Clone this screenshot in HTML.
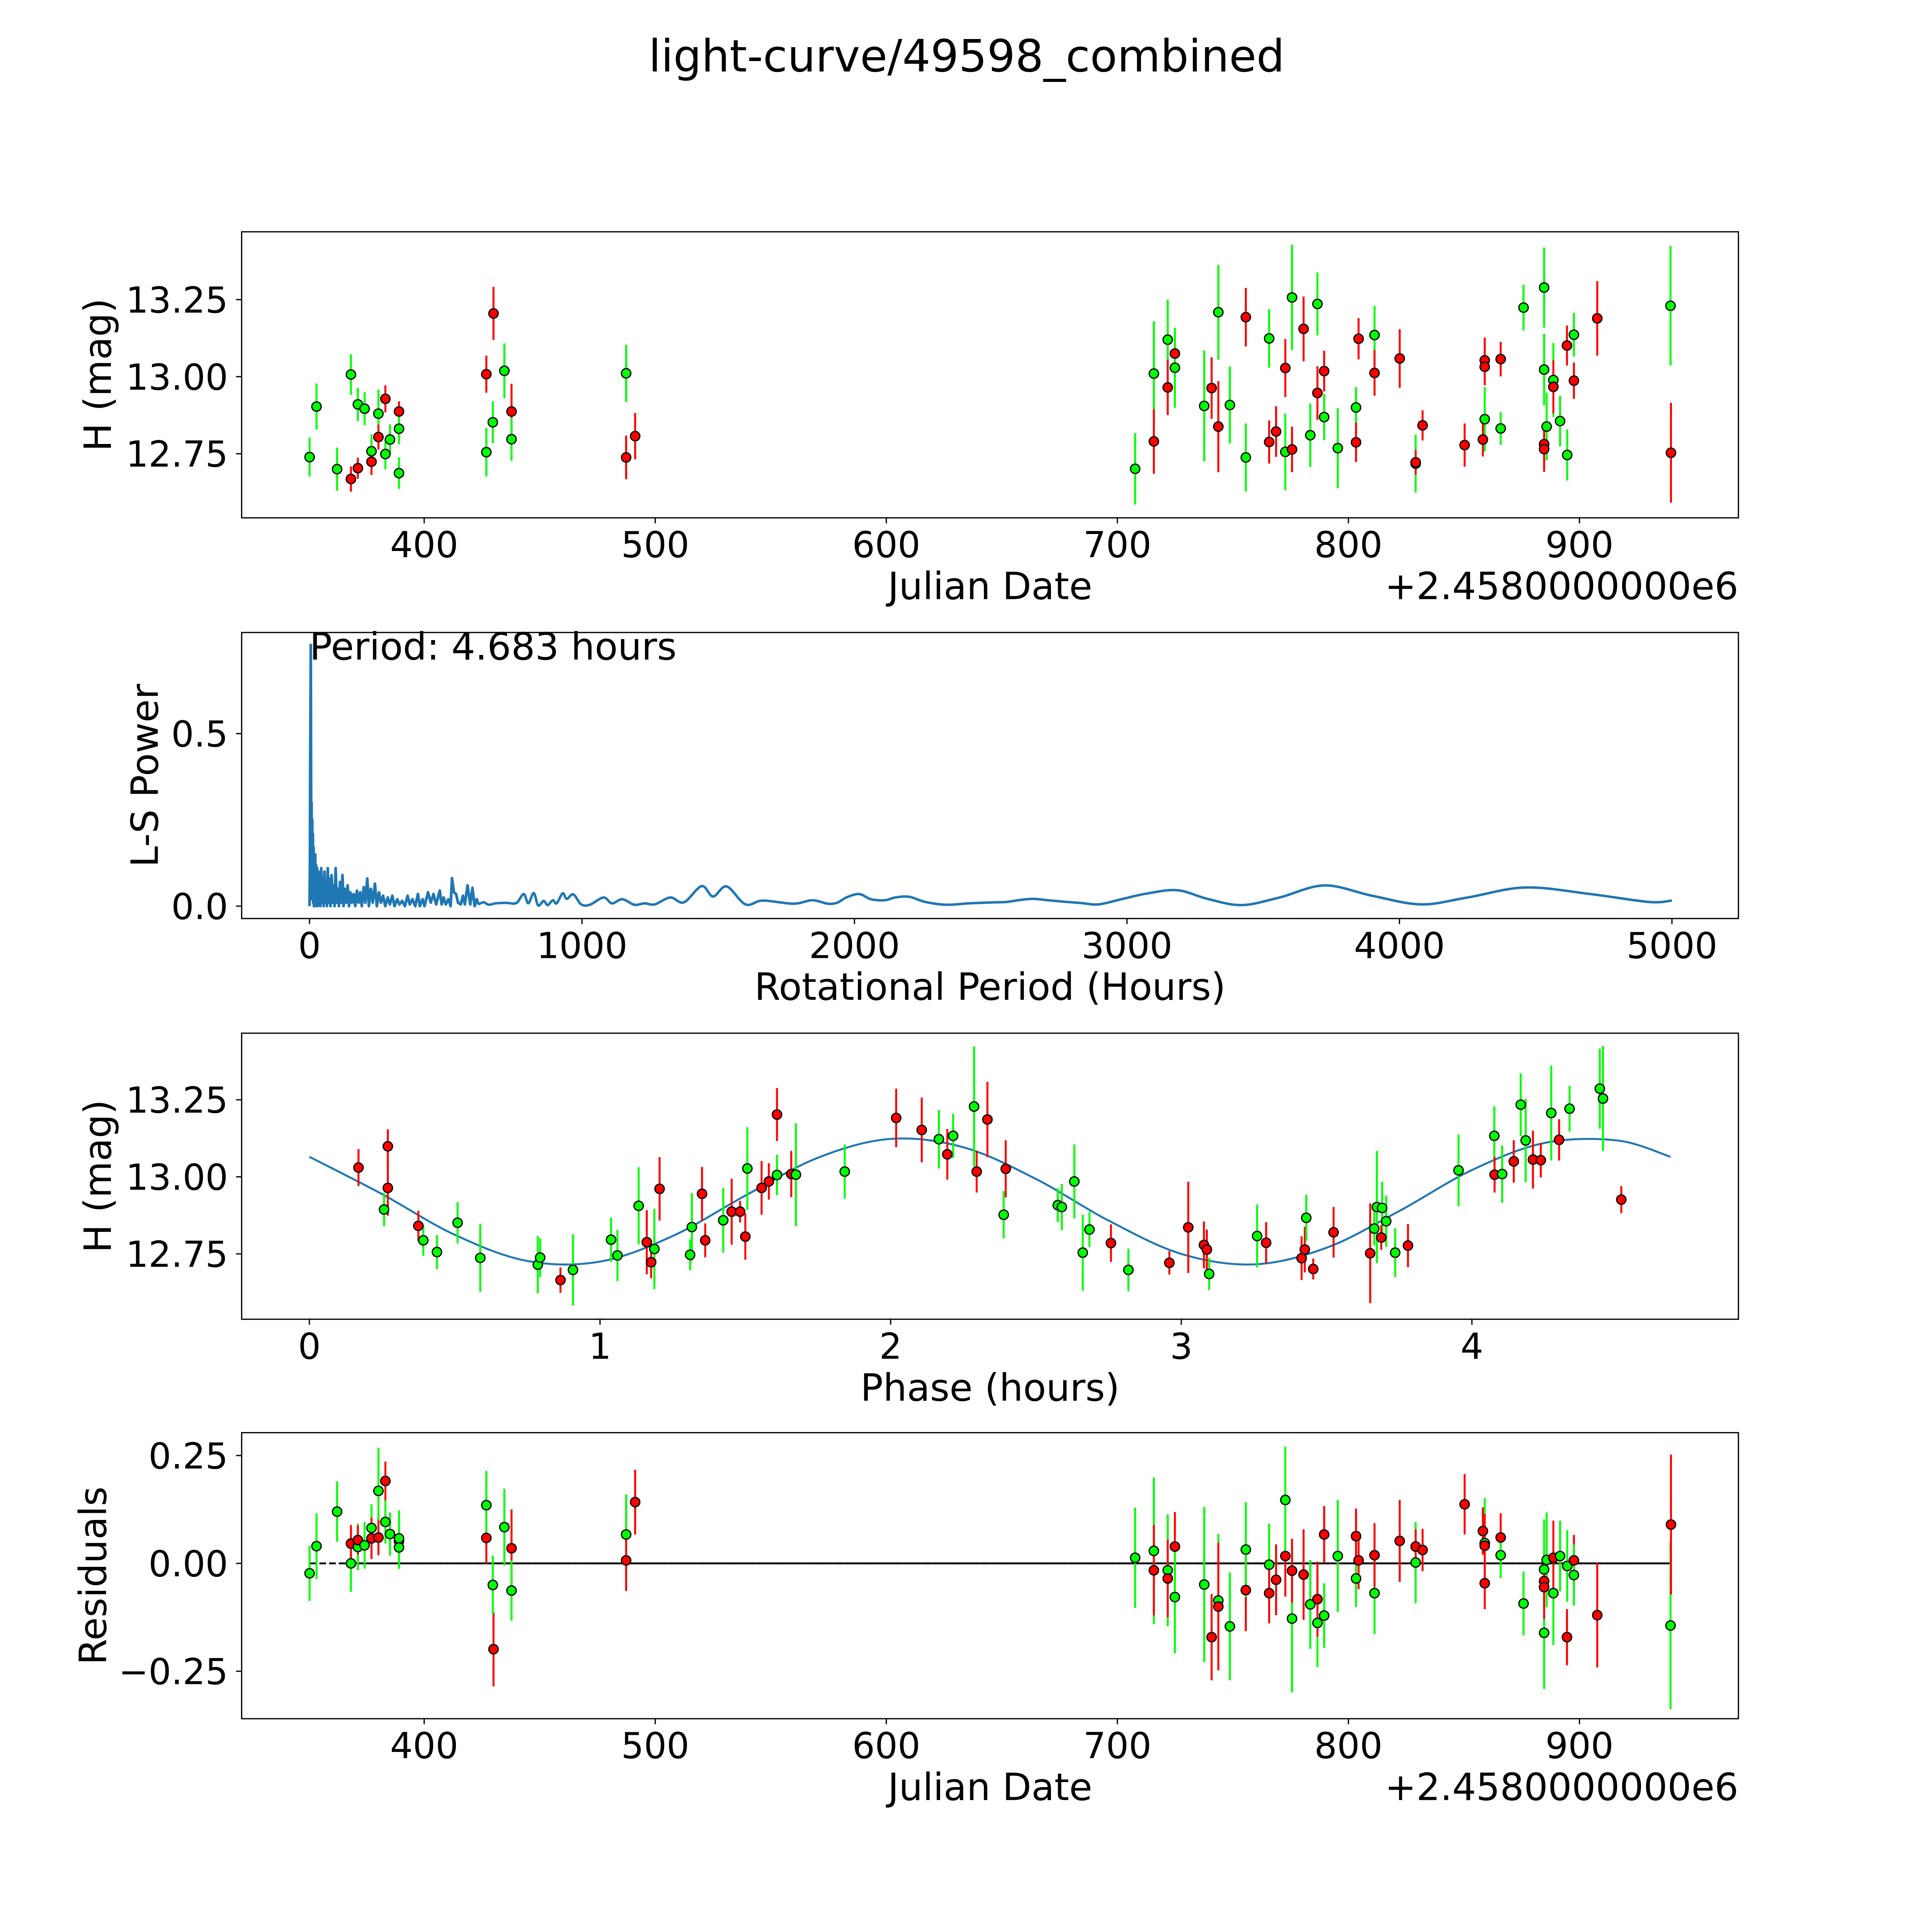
<!DOCTYPE html>
<html><head><meta charset="utf-8"><style>
html,body{margin:0;padding:0;background:#fff;width:100%;height:100%;overflow:hidden;}
svg{display:block;position:absolute;left:0;top:0;width:100vw;height:100vh;}
text{font-family:"DejaVu Sans","Liberation Sans",sans-serif;fill:#000;}
</style></head><body>
<svg id="fig" xmlns="http://www.w3.org/2000/svg" width="100%" height="100%" viewBox="0 0 1567 1567" preserveAspectRatio="none">
<rect x="0" y="0" width="1567" height="1567" fill="#fff"/>
<text x="784" y="58" font-size="36" text-anchor="middle">light-curve/49598_combined</text>
</svg>
<script>
// ---------- Panel 1: light curve ----------
const lcJD=[350.4,353.4,362.3,368.3,368.3,371.3,371.3,374.2,377.2,377.2,380.2,380.2,383.2,383.2,385.2,389.1,389.1,389.1,426.9,426.9,430.0,429.7,434.7,437.8,437.8,487.4,487.4,491.3,
707.7,715.8,715.8,721.8,721.8,724.9,724.9,737.6,740.8,743.7,743.7,748.7,755.6,755.6,765.7,765.7,768.7,772.7,772.7,775.6,775.6,780.6,783.5,786.6,786.6,789.5,789.5,795.4,803.3,803.3,804.4,811.3,811.3,822.2,829.1,829.1,832.1,850.3,858.2,859.0,859.0,859.0,865.9,865.9,875.8,884.7,884.7,884.7,884.7,885.8,888.7,888.7,891.6,894.6,894.7,897.6,897.6,907.7,939.4,939.6];
const lcMag=[12.739,12.903,12.700,13.007,12.668,12.910,12.703,12.896,12.758,12.724,12.880,12.804,12.928,12.749,12.796,12.887,12.831,12.687,13.008,12.755,13.205,12.852,13.019,12.887,12.797,13.011,12.738,12.807,
12.701,13.010,12.790,13.120,12.965,13.075,13.029,12.905,12.963,13.209,12.838,12.908,13.193,12.738,13.124,12.788,12.822,13.028,12.756,13.257,12.764,13.155,12.810,13.236,12.947,13.018,12.869,12.768,12.900,12.787,13.123,13.135,13.012,13.059,12.718,12.722,12.842,12.778,12.796,12.862,13.053,13.032,13.057,12.832,13.224,13.289,13.023,12.781,12.765,12.838,12.989,12.967,12.856,13.101,12.746,12.987,13.136,13.189,13.230,12.753];
const lcErr=[0.063,0.075,0.07,0.066,0.041,0.054,0.034,0.054,0.055,0.043,0.078,0.041,0.044,0.05,0.049,0.033,0.05,0.051,0.06,0.079,0.086,0.068,0.089,0.09,0.07,0.093,0.071,0.075,
0.116,0.17,0.105,0.13,0.09,0.08,0.13,0.18,0.10,0.154,0.148,0.125,0.095,0.11,0.095,0.07,0.082,0.094,0.124,0.171,0.074,0.105,0.103,0.102,0.087,0.066,0.075,0.13,0.066,0.064,0.067,0.095,0.074,0.095,0.094,0.04,0.049,0.07,0.055,0.104,0.074,0.06,0.056,0.053,0.074,0.13,0.116,0.06,0.074,0.11,0.12,0.086,0.082,0.065,0.083,0.059,0.071,0.121,0.194,0.162];
const lcBand=["g","g","g","g","r","g","r","g","g","r","g","r","r","g","g","r","g","g","r","g","r","g","g","r","g","g","r","r",
"g","g","r","g","r","r","g","g","r","g","r","g","r","g","g","r","r","r","g","g","r","r","g","g","r","r","g","g","g","r","r","g","r","r","g","r","r","r","r","g","r","r","r","g","g","g","g","r","r","g","g","r","g","r","g","r","g","r","g","r"];

// ---------- Panel 2: periodogram ----------
const pgPeriod=[0,1.5,2.5,3.5,4.68,5.5,6.5,7.5,8.5,10,11,12.5,13.5,15,16,18,19.5,21,22,24,26,28,30,33,35,38,40,43,46,49,52,55,58,61,64,67,70,74,77,81,85,89,92,96,100,104,108,112,116,121,125,130,135,140,145,150,156,162,168,174,180,186,192,199,205,212,218,225,232,240,247,255,262,270,278,287,295,304,312,322,330,340,350,360,368,378,388,398,405,415,422,435,445,455,465,478,485,492,500,510,518,523,530,538,545,555,563,570,580,590,598,606,614,
620,639,658,683,721,759,786,803,823,839,859,874,893,907,929,944,968,997,1029,1079,1110,1148,1192,1230,1267,1324,1374,1439,1481,1531,1600,1663,1776,1845,1902,1937,1970,2017,2060,2111,2150,2201,2260,2337,2420,2515,2557,2610,2657,2710,2766,2830,2896,2980,3070,3185,3300,3422,3560,3725,3900,4079,4250,4462,4700,4916,5000];
const pgPower=[0,0.1,0.4,0.55,0.757,0.45,0.1,0.3,0.02,0.25,0.02,0.21,0.01,0.17,0.0,0.14,0.01,0.15,0.0,0.12,0.01,0.11,0.0,0.1,0.01,0.085,0.0,0.11,0.01,0.08,0.0,0.1,0.01,0.07,0.0,0.11,0.01,0.08,0.0,0.09,0.01,0.06,0.0,0.11,0.01,0.05,0.0,0.07,0.01,0.09,0.0,0.05,0.01,0.06,0.0,0.04,0.01,0.035,0.0,0.045,0.01,0.04,0.0,0.055,0.01,0.08,0.0,0.05,0.01,0.065,0.0,0.04,0.01,0.03,0.0,0.025,0.005,0.03,0.0,0.02,0.005,0.015,0.0,0.03,0.005,0.02,0.0,0.035,0.0,0.02,0.0,0.04,0.01,0.035,0.005,0.045,0.005,0.025,0.005,0.02,0.0,0.081,0.04,0.035,0.01,0.005,0.03,0.005,0.06,0.005,0.053,0.0,0.02,
0.005,0.011,0.004,0.008,0.0095,0.009,0.035,0.008,0.038,0.002,0.015,0.003,0.017,0.008,0.037,0.021,0.034,0.005,0.004,0.025,0.008,0.02,0.004,0.008,0.005,0.025,0.011,0.058,0.028,0.057,0.005,0.016,0.007,0.017,0.007,0.01,0.025,0.035,0.02,0.017,0.025,0.027,0.012,0.004,0.008,0.011,0.012,0.018,0.021,0.017,0.013,0.009,0.005,0.02,0.036,0.046,0.02,0.003,0.025,0.06,0.03,0.005,0.025,0.054,0.035,0.012,0.016];
const pgSmoothFrom=620;

// ---------- Panel 3: phased ----------
const phPhase=[0.169,0.270,0.270,0.257,0.375,0.392,0.439,0.510,0.588,0.786,0.794,0.864,0.907,1.038,1.060,1.133,1.161,1.176,1.187,1.205,1.310,1.316,1.351,1.362,1.424,1.453,1.482,1.500,1.507,1.556,1.581,1.609,1.609,1.658,1.674,1.842,2.019,2.107,2.166,2.195,2.215,2.287,2.296,2.333,
2.396,2.389,2.575,2.589,2.632,2.661,2.684,2.758,2.818,2.959,3.024,3.078,3.088,3.096,3.261,3.292,3.414,3.425,3.430,3.454,3.524,3.650,3.664,3.673,3.691,3.688,3.705,3.736,3.780,3.954,4.077,4.078,4.104,4.144,4.168,4.185,4.210,4.237,4.273,4.300,4.336,4.440,4.451,4.514];
const phMag=[13.030,13.099,12.964,12.894,12.841,12.794,12.756,12.851,12.737,12.715,12.738,12.665,12.698,12.796,12.745,12.906,12.788,12.723,12.766,12.961,12.747,12.837,12.945,12.794,12.859,12.887,12.887,12.806,13.027,12.964,12.985,13.006,13.202,13.009,13.007,13.017,13.191,13.152,13.122,13.073,13.133,13.228,13.017,13.186,
13.026,12.877,12.908,12.902,12.985,12.754,12.829,12.785,12.698,12.721,12.836,12.779,12.764,12.685,12.808,12.786,12.736,12.764,12.867,12.701,12.820,12.752,12.832,12.902,12.899,12.803,12.856,12.754,12.777,13.021,13.133,13.007,13.009,13.050,13.234,13.118,13.056,13.054,13.207,13.120,13.221,13.286,13.254,12.926];
const phErr=[0.06,0.055,0.09,0.054,0.049,0.05,0.055,0.067,0.11,0.093,0.063,0.041,0.116,0.072,0.083,0.125,0.104,0.052,0.13,0.103,0.05,0.11,0.087,0.055,0.105,0.107,0.035,0.075,0.134,0.087,0.059,0.066,0.086,0.075,0.167,0.088,0.095,0.105,0.095,0.082,0.072,0.195,0.068,0.122,
0.093,0.077,0.055,0.075,0.12,0.123,0.057,0.061,0.069,0.038,0.148,0.076,0.065,0.052,0.102,0.067,0.071,0.074,0.075,0.034,0.082,0.162,0.055,0.182,0.085,0.04,0.083,0.079,0.07,0.116,0.096,0.058,0.093,0.069,0.102,0.135,0.094,0.056,0.154,0.067,0.074,0.13,0.17,0.044];
const phBand=["r","r","r","g","r","g","g","g","g","g","g","r","g","g","g","g","r","r","g","r","g","g","r","r","g","r","r","r","g","r","r","g","r","r","g","g","r","r","g","r","g","g","r","r",
"r","g","g","g","g","g","g","r","g","r","r","r","r","g","g","r","r","r","g","r","r","r","g","g","g","r","g","g","r","g","g","r","g","r","g","g","r","r","g","r","g","g","g","r"];
const fitPhase=[0,0.25,0.5,0.75,1.0,1.25,1.5,1.75,2.0,2.25,2.5,2.75,3.0,3.25,3.5,3.75,4.0,4.25,4.5,4.683];
const fitMag=[13.065,12.944,12.812,12.727,12.725,12.808,12.939,13.062,13.123,13.096,12.993,12.858,12.750,12.716,12.770,12.889,13.022,13.110,13.118,13.065];

// ---------- Panel 4: residuals ----------
const resJD=[350.4,353.4,362.3,368.3,368.3,371.3,371.3,374.2,377.2,377.2,380.2,380.2,383.2,383.2,385.2,389.1,389.1,389.1,426.9,426.9,430.0,429.7,434.7,437.8,437.8,487.4,487.4,491.3,
707.7,715.8,715.8,721.8,721.8,724.9,724.9,737.6,740.8,743.7,743.7,748.7,755.6,755.6,765.7,765.7,768.7,772.7,772.7,775.6,775.6,780.6,783.5,786.6,786.6,789.5,789.5,795.4,803.3,803.3,804.4,811.3,811.3,822.2,829.1,829.1,832.1,850.3,858.2,859.0,859.0,859.0,865.9,865.9,875.8,884.7,884.7,884.7,884.7,885.8,888.7,888.7,891.6,894.6,894.7,897.6,897.6,907.7,939.4,939.6];
const resVal=[-0.023,0.040,0.120,0.000,0.046,0.038,0.054,0.042,0.082,0.058,0.168,0.060,0.191,0.096,0.068,0.052,0.058,0.037,0.059,0.135,-0.199,-0.050,0.084,0.035,-0.063,0.067,0.007,0.142,
0.013,0.029,-0.016,-0.016,-0.035,0.039,-0.078,-0.049,-0.171,-0.086,-0.100,-0.146,-0.062,0.032,-0.003,-0.069,-0.038,0.017,0.147,-0.128,-0.017,-0.026,-0.095,-0.138,-0.083,0.067,-0.121,0.017,-0.035,0.063,0.007,-0.069,0.019,0.052,0.002,0.039,0.031,0.137,0.075,0.047,0.041,-0.046,0.060,0.019,-0.093,-0.161,-0.014,-0.041,-0.055,0.008,-0.069,0.013,0.017,-0.171,-0.006,0.007,-0.027,-0.120,-0.144,0.090];
const resErr=[0.064,0.076,0.07,0.066,0.043,0.054,0.034,0.054,0.055,0.048,0.1,0.041,0.045,0.05,0.05,0.034,0.065,0.05,0.06,0.079,0.086,0.068,0.089,0.09,0.07,0.093,0.071,0.075,
0.116,0.17,0.105,0.13,0.09,0.08,0.13,0.18,0.10,0.154,0.148,0.125,0.095,0.11,0.095,0.07,0.082,0.094,0.124,0.171,0.074,0.105,0.103,0.102,0.087,0.066,0.075,0.13,0.066,0.064,0.067,0.095,0.074,0.095,0.094,0.04,0.049,0.07,0.055,0.104,0.074,0.06,0.056,0.053,0.074,0.13,0.116,0.06,0.074,0.11,0.12,0.086,0.082,0.065,0.083,0.059,0.071,0.121,0.194,0.162];
const resBand=["g","g","g","g","r","g","r","g","g","r","g","r","r","g","g","r","g","g","r","g","r","g","g","r","g","g","r","r",
"g","g","r","g","r","r","g","g","r","g","r","g","r","g","g","r","r","r","g","g","r","r","g","g","r","r","g","g","g","r","r","g","r","r","g","r","r","r","r","g","r","r","r","g","g","g","g","r","r","g","g","r","g","r","g","r","g","r","g","r"];

// tick arrays
const jdTicks=[400,500,600,700,800,900];
const magTicks=[12.75,13.00,13.25];
const magTickLabels=["12.75","13.00","13.25"];
const pgXTicks=[0,1000,2000,3000,4000,5000];
const pgYTicks=[0.0,0.5];
const pgYTickLabels=["0.0","0.5"];
const phXTicks=[0,1,2,3,4];
const resYTicks=[-0.25,0,0.25];
const resYTickLabels=["\u22120.25","0.00","0.25"];

const NS="http://www.w3.org/2000/svg";
const svg=document.getElementById('fig');
const COL={g:"#00ff00",r:"#ff0000"};
const FS=29, LFS=30.5;
function mk(tag,attrs,parent){const e=document.createElementNS(NS,tag);for(const k in attrs)e.setAttribute(k,attrs[k]);(parent||svg).appendChild(e);return e;}
function lin(d0,d1,p0,p1){return v=>p0+(v-d0)*(p1-p0)/(d1-d0);}
function catmull(pts){let d="M"+pts[0][0].toFixed(2)+","+pts[0][1].toFixed(2);for(let i=0;i<pts.length-1;i++){const p0=pts[Math.max(0,i-1)],p1=pts[i],p2=pts[i+1],p3=pts[Math.min(pts.length-1,i+2)];const c1=[p1[0]+(p2[0]-p0[0])/6,p1[1]+(p2[1]-p0[1])/6],c2=[p2[0]-(p3[0]-p1[0])/6,p2[1]-(p3[1]-p1[1])/6];d+=" C"+c1[0].toFixed(2)+","+c1[1].toFixed(2)+" "+c2[0].toFixed(2)+","+c2[1].toFixed(2)+" "+p2[0].toFixed(2)+","+p2[1].toFixed(2);}return d;}

const L=196,R=1410;
function makeAxes(name,top,bot,xd,yd,xt,xtl,yt,ytl,xlabel,ylabel,ylabX,offset){
  const g=mk('g',{});
  
  
  const X=lin(xd[0],xd[1],L,R),Y=lin(yd[0],yd[1],bot,top);
  const clipId=name+"-clip";
  const cp=mk('clipPath',{id:clipId},g);mk('rect',{x:L,y:top,width:R-L,height:bot-top},cp);
  const plot=mk('g',{'clip-path':'url(#'+clipId+')'},g);
  
  
  xt.forEach((v,i)=>{const x=X(v);
    const t=mk('line',{x1:x,x2:x,y1:bot,y2:bot+4.5,stroke:'#000','stroke-width':1},g);
    
    const tl=mk('text',{x:x,y:bot+32,'font-size':FS,'text-anchor':'middle'},g);tl.textContent=xtl[i];
    });
  yt.forEach((v,i)=>{const y=Y(v);
    const t=mk('line',{x1:L-4.5,x2:L,y1:y,y2:y,stroke:'#000','stroke-width':1},g);
    
    const tl=mk('text',{x:L-11,y:y+10.5,'font-size':FS,'text-anchor':'end'},g);tl.textContent=ytl[i];
    });
  const xl=mk('text',{x:(L+R)/2,y:bot+66,'font-size':LFS,'text-anchor':'middle'},g);xl.textContent=xlabel;
  
  const yc=(top+bot)/2;
  const yl=mk('text',{x:ylabX,y:yc,'font-size':LFS,'text-anchor':'middle',transform:'rotate(-90 '+ylabX+' '+yc+')'},g);yl.textContent=ylabel;
  
  if(offset){const o=mk('text',{x:R,y:bot+66,'font-size':LFS,'text-anchor':'end'},g);o.textContent=offset;
    }
  return {g,plot,X,Y,top,bot};
}
function frame(ax){const f=mk('rect',{x:L,y:ax.top,width:R-L,height:ax.bot-ax.top,fill:'none',stroke:'#000','stroke-width':1},ax.g);
  }
function errPoints(ax,xs,ys,es,bs,nm){
  for(let i=0;i<xs.length;i++){const x=ax.X(xs[i]);
    const e=mk('line',{x1:x,x2:x,y1:ax.Y(ys[i]-es[i]),y2:ax.Y(ys[i]+es[i]),stroke:COL[bs[i]],'stroke-width':1.6},ax.plot);
    }
  for(let i=0;i<xs.length;i++){
    const c=mk('circle',{cx:ax.X(xs[i]),cy:ax.Y(ys[i]),r:3.8,fill:COL[bs[i]],stroke:'#000','stroke-width':1},ax.plot);
    }
}
const jdLbl=jdTicks.map(String);
const a1=makeAxes('light-curve-panel',188,420,[321.0,968.8],[12.542,13.47],jdTicks,jdLbl,magTicks,magTickLabels,'Julian Date','H (mag)',90,'+2.4580000000e6');
errPoints(a1,lcJD,lcMag,lcErr,lcBand,'light-curve');frame(a1);
const a2=makeAxes('periodogram-panel',513,745,[-249,5244],[-0.036,0.793],pgXTicks,pgXTicks.map(String),pgYTicks,pgYTickLabels,'Rotational Period (Hours)','L-S Power',128,null);
{let dense=[],smooth=[];for(let i=0;i<pgPeriod.length;i++){const p=[a2.X(pgPeriod[i]),a2.Y(pgPower[i])];if(pgPeriod[i]<=pgSmoothFrom)dense.push(p);if(pgPeriod[i]>=pgSmoothFrom)smooth.push(p);}
 const d1=mk('polyline',{points:dense.map(p=>p[0].toFixed(2)+','+p[1].toFixed(2)).join(' '),fill:'none',stroke:'#1f77b4','stroke-width':2.2,'stroke-linejoin':'round'},a2.plot);
 
 const d2=mk('path',{d:catmull(smooth),fill:'none',stroke:'#1f77b4','stroke-width':2},a2.plot);
 }
const ann=mk('text',{x:a2.X(0),y:535,'font-size':LFS},a2.g);ann.textContent='Period: 4.683 hours';

frame(a2);
const a3=makeAxes('phase-panel',838,1070,[-0.233,4.917],[12.538,13.466],phXTicks,phXTicks.map(String),magTicks,magTickLabels,'Phase (hours)','H (mag)',90,null);
{const fp=fitPhase.map((p,i)=>[a3.X(p),a3.Y(fitMag[i])]);
 const c=mk('path',{d:catmull(fp),fill:'none',stroke:'#1f77b4','stroke-width':1.6},a3.plot);
 }
errPoints(a3,phPhase,phMag,phErr,phBand,'phased');frame(a3);
const a4=makeAxes('residuals-panel',1162,1394,[321.0,968.8],[-0.36,0.303],jdTicks,jdLbl,resYTicks,resYTickLabels,'Julian Date','Residuals',86,'+2.4580000000e6');
{const z=a4.Y(0);
 const dl=mk('line',{x1:a4.X(resJD[0]),x2:a4.X(resJD[resJD.length-1]),y1:z,y2:z,stroke:'#000','stroke-width':1.5,'stroke-dasharray':'5.5,2.4'},a4.plot);
 
 const sl=mk('line',{x1:a4.X(resJD[3]),x2:a4.X(resJD[resJD.length-1]),y1:z,y2:z,stroke:'#000','stroke-width':1.5},a4.plot);
 }
errPoints(a4,resJD,resVal,resErr,resBand,'residual');frame(a4);
</script>
</body></html>
